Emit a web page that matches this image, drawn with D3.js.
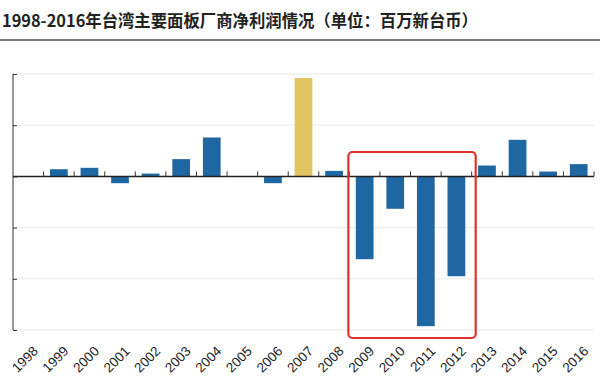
<!DOCTYPE html>
<html>
<head>
<meta charset="utf-8">
<script src="https://cdn.jsdelivr.net/npm/d3@7"></script>
<style>
  body { margin: 0; background: #fff; }
  svg { display: block; }
</style>
</head>
<body>
<svg width="600" height="381"></svg>
<script>
const width = 600;
const height = 381;

// net profit, million NTD
const years = ['1998', '1999', '2000', '2001', '2002', '2003', '2004', '2005', '2006', '2007',
    '2008', '2009', '2010', '2011', '2012', '2013', '2014', '2015', '2016'];
const profits = [0, 5600, 6700, -5300, 2200, 13500, 30400, -300, -5300, 76900,
    4300, -64700, -25300, -117000, -78000, 8500, 28600, 3800, 9600];
const yTicks = [-120000, -80000, -40000, 0, 40000, 80000];
const goldYears = ['2007'];
const boxYears = ['2009', '2010', '2011', '2012'];

const data = years.map((y, i) => ({ year: y, value: profits[i] }));

const svg = d3.select('svg');

// title
svg.append('text')
    .attr('x', 2)
    .attr('y', 26.5)
    .attr('font-family', '"Noto Sans CJK SC", sans-serif')
    .attr('font-size', 16.5)
    .attr('font-weight', 'bold')
    .attr('fill', '#222')
    .attr('textLength', 476)
    .attr('lengthAdjust', 'spacingAndGlyphs')
    .text('1998-2016年台湾主要面板厂商净利润情况（单位：百万新台币）');

svg.append('line')
    .attr('x1', 0).attr('x2', width)
    .attr('y1', 40).attr('y2', 40)
    .attr('stroke', '#555')
    .attr('stroke-width', 1.5);

const x = d3.scaleBand()
    .domain(years)
    .range([13, 594])
    .paddingInner(0.42)
    .paddingOuter(0.21);

const y = d3.scaleLinear()
    .domain([-120000, 80000])
    .range([330, 74]);

// grid
svg.append('g')
    .selectAll('line')
    .data(yTicks)
    .join('line')
    .attr('x1', 13).attr('x2', 594)
    .attr('y1', d => y(d)).attr('y2', d => y(d))
    .attr('stroke', '#e8e8e8')
    .attr('stroke-width', 1);

// bars
svg.append('g')
    .selectAll('rect')
    .data(data)
    .join('rect')
    .attr('x', d => x(d.year))
    .attr('width', x.bandwidth())
    .attr('y', d => y(Math.max(0, d.value)))
    .attr('height', d => Math.abs(y(d.value) - y(0)))
    .attr('fill', d => goldYears.includes(d.year) ? '#e2c462' : '#1f67a3');

// y axis
const yAxis = svg.append('g')
    .attr('transform', 'translate(13,0)')
    .call(d3.axisRight(y).tickValues(yTicks).tickSize(4).tickFormat(''));
yAxis.select('.domain').attr('stroke', '#333').attr('d', 'M0,74V330');
yAxis.selectAll('.tick line').attr('stroke', '#333');

// zero line with ticks at category boundaries
const step = x.step();
const bounds = d3.range(years.length + 1).map(i => 13 + i * step);
svg.append('line')
    .attr('x1', 13).attr('x2', 594)
    .attr('y1', y(0)).attr('y2', y(0))
    .attr('stroke', '#222')
    .attr('stroke-width', 1.5);
svg.append('g')
    .selectAll('line')
    .data(bounds.slice(1))
    .join('line')
    .attr('x1', d => d).attr('x2', d => d)
    .attr('y1', y(0)).attr('y2', y(0) - 5)
    .attr('stroke', '#333');

// x labels
svg.append('g')
    .selectAll('text')
    .data(years)
    .join('text')
    .attr('transform', d => `translate(${x(d) + x.bandwidth() / 2 + 10.5},${352}) rotate(-45)`)
    .attr('text-anchor', 'end')
    .attr('font-family', 'Liberation Sans, Arial, sans-serif')
    .attr('font-size', 13.5)
    .attr('fill', '#222')
    .text(d => d);

// red highlight box
const bx0 = x(boxYears[0]) - x.step() * x.paddingInner() / 2 - 1;
const bx1 = x(boxYears[boxYears.length - 1]) + x.bandwidth() + x.step() * x.paddingInner() / 2 + 4;
svg.append('rect')
    .attr('x', bx0)
    .attr('y', 152)
    .attr('width', bx1 - bx0)
    .attr('height', 186)
    .attr('rx', 4)
    .attr('fill', 'none')
    .attr('stroke', '#e0322b')
    .attr('stroke-width', 2.2);
</script>
</body>
</html>
